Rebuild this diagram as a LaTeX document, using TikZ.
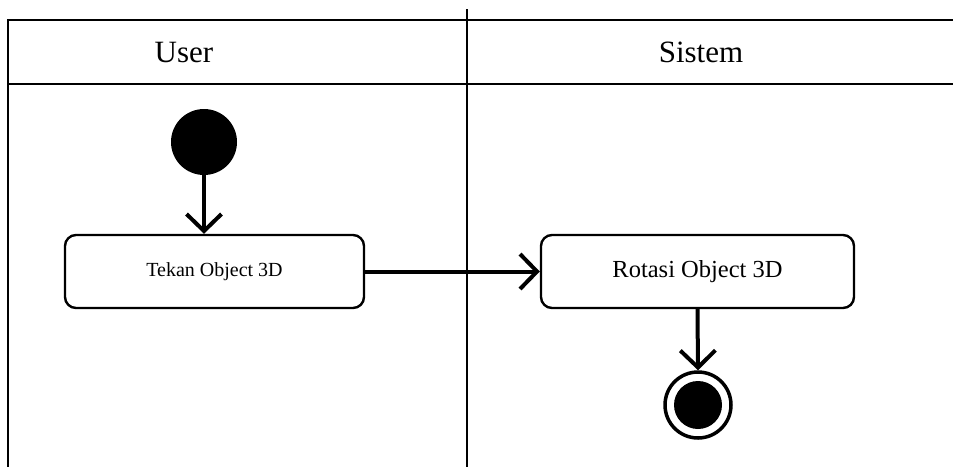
\documentclass[tikz,border=0pt]{standalone}
\usepackage{fontspec}
\setmainfont{Liberation Serif}
\usetikzlibrary{arrows.meta}
\begin{document}
\begin{tikzpicture}[x=1pt,y=-1pt,
  lane/.style={line width=2.4pt},
  action/.style={draw,line width=2.4pt,rounded corners=11pt,minimum width=#1,minimum height=73pt,inner sep=0pt},
  flow/.style={line width=4pt,-{Straight Barb[length=17pt,width=35pt,line width=4pt]}},
  lanetitle/.style={font=\fontsize{31}{31}\selectfont},
]
\useasboundingbox (0,0) rectangle (953,467);
\fill[white] (0,0) rectangle (953,467);

% swimlane frame
\draw[lane] (953,20) -- (8,20) -- (8,467);
\draw[lane] (8,84) -- (953,84);
\draw[lane] (467,9) -- (467,467);

% lane titles
\node[lanetitle] (user) at (184,52) {User};
\node[lanetitle] (sistem) at (701,52) {Sistem};

% start node
\node[circle,fill=black,minimum size=66pt,inner sep=0pt] (start) at (204,142) {};

% actions
\node[action=299pt,font=\fontsize{20}{20}\selectfont] (tekan) at (214.5,271.5) {Tekan Object 3D};
\node[action=313pt,font=\fontsize{24.5}{24.5}\selectfont] (rotasi) at (697.5,271.5) {Rotasi Object 3D};

% end node
\node[circle,draw,line width=3.5pt,minimum size=66pt,inner sep=0pt] (end) at (698,405) {};
\fill (end.center) circle (24pt);

% control flow
\draw[flow] (start.south) -- (start.south |- tekan.north);
\draw[flow] (tekan.east) -- (rotasi.west);
\draw[flow] (rotasi.south) -- (end.north);
\end{tikzpicture}
\end{document}
